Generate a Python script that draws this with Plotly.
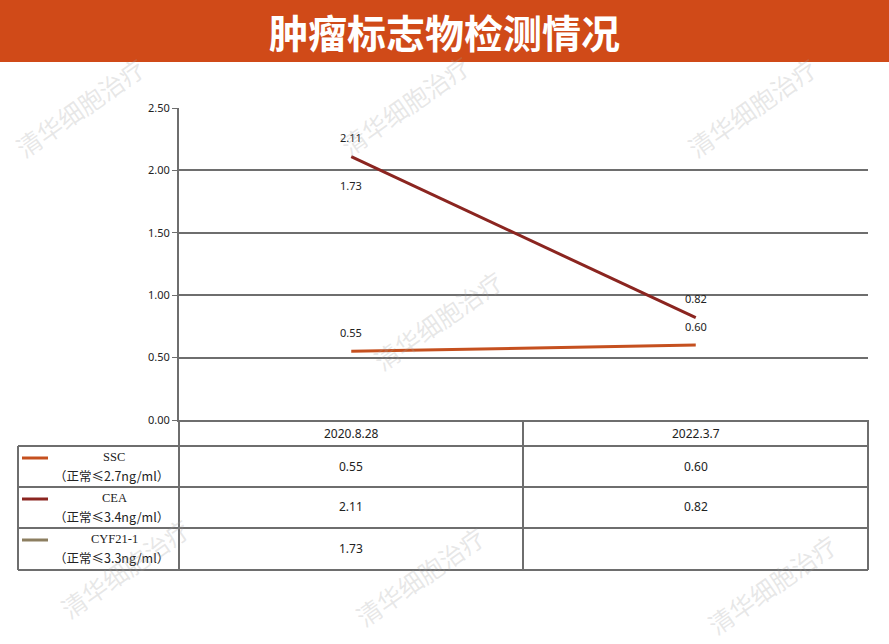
import plotly.graph_objects as go

# data
dates = ["2020.8.28", "2022.3.7"]
markers = ["SSC", "CEA", "CYF21-1"]
normal_ranges = ["（正常≤2.7ng/ml）", "（正常≤3.4ng/ml）", "（正常≤3.3ng/ml）"]
ssc = [0.55, 0.60]
cea = [2.11, 0.82]
cyf = [1.73, None]
colors = ["#c5501f", "#8b2520", "#8c7e60"]

W, H = 889, 644
L, R, T, B = 179, 868, 108, 420  # plot area in pixels
GRID = "#6e6e6e"


def px(x):
    return (x - L) / (R - L)


def py(y):
    return (B - y) / (B - T)


def note(text, x, y, size=12, family="Noto Sans", color="#222", xref="paper", yref="paper", **kw):
    return dict(text=text, xref=xref, yref=yref, x=x, y=y, showarrow=False,
                xanchor="center", yanchor="middle",
                font=dict(family=family, size=size, color=color), **kw)


fig = go.Figure()
annotations = []
for name, vals, col in zip(markers, [ssc, cea, cyf], colors):
    fig.add_trace(go.Scatter(
        x=list(range(len(dates))), y=vals, name=name, mode="lines",
        line=dict(color=col, width=3), showlegend=False,
    ))
    # value labels above each point
    for i, v in enumerate(vals):
        if v is not None:
            annotations.append(note(f"{v:.2f}", i, v, size=11, xref="x", yref="y", yshift=19))

shapes = []

# title banner
shapes.append(dict(type="rect", xref="paper", yref="paper", x0=px(0), x1=px(W),
                   y0=py(0), y1=py(62), fillcolor="#d04a18", line_width=0, layer="below"))
annotations.append(note("<b>肿瘤标志物检测情况</b>", px(W / 2), py(31), size=39,
                        family="Noto Sans CJK SC", color="white"))

# table lines
line = dict(color=GRID, width=2)
row_y = [446, 487, 528, 570]
for y in row_y:
    shapes.append(dict(type="line", xref="paper", yref="paper", x0=px(18), x1=px(R),
                       y0=py(y), y1=py(y), line=line))
shapes.append(dict(type="line", xref="paper", yref="paper", x0=px(18), x1=px(18),
                   y0=py(446), y1=py(570), line=line))
for x in [L, 523, R]:
    shapes.append(dict(type="line", xref="paper", yref="paper", x0=px(x), x1=px(x),
                       y0=py(B), y1=py(570), line=line))

# header dates
for i, d in enumerate(dates):
    annotations.append(note(d, i, py(433), xref="x"))

# rows
for r, (name, norm, vals, col) in enumerate(zip(markers, normal_ranges, [ssc, cea, cyf], colors)):
    top = row_y[r]
    shapes.append(dict(type="line", xref="paper", yref="paper", x0=px(22), x1=px(48),
                       y0=py(top + 12), y1=py(top + 12), line=dict(color=col, width=3)))
    annotations.append(note(name, px(114), py(top + 11), family="Liberation Serif", size=12.5))
    annotations.append(note(norm, px(111), py(top + 29), family="Noto Sans CJK SC", size=12.5))
    for i, v in enumerate(vals):
        if v is None:
            continue
        annotations.append(note(f"{v:.2f}", i, py(top + 20), xref="x"))

# watermarks
for wx, wy in [(80, 107), (405, 105), (752, 107), (438, 320), (125, 568), (420, 576), (772, 584)]:
    annotations.append(note("清华细胞治疗", px(wx), py(wy), size=25,
                            family="Noto Sans CJK SC", color="rgba(160,160,160,0.25)",
                            textangle=-35))

fig.update_layout(
    width=W, height=H,
    margin=dict(l=L, r=W - R, t=T, b=H - B),
    paper_bgcolor="white", plot_bgcolor="white",
    shapes=shapes, annotations=annotations,
    xaxis=dict(range=[-0.5, len(dates) - 0.5], showticklabels=False, showgrid=False,
               zeroline=False, showline=True, linecolor=GRID, linewidth=2, fixedrange=True),
    yaxis=dict(range=[0, 2.5], dtick=0.5, tickformat=".2f", showgrid=True, gridcolor=GRID,
               gridwidth=2, zeroline=False, showline=True, linecolor=GRID, linewidth=2,
               ticks="outside", ticklen=5, tickcolor=GRID, tickwidth=1,
               tickfont=dict(family="Noto Sans", size=11, color="#222")),
)

fig.write_html("out.html", config={"displayModeBar": False},
               post_script="document.body.style.margin='0';")
